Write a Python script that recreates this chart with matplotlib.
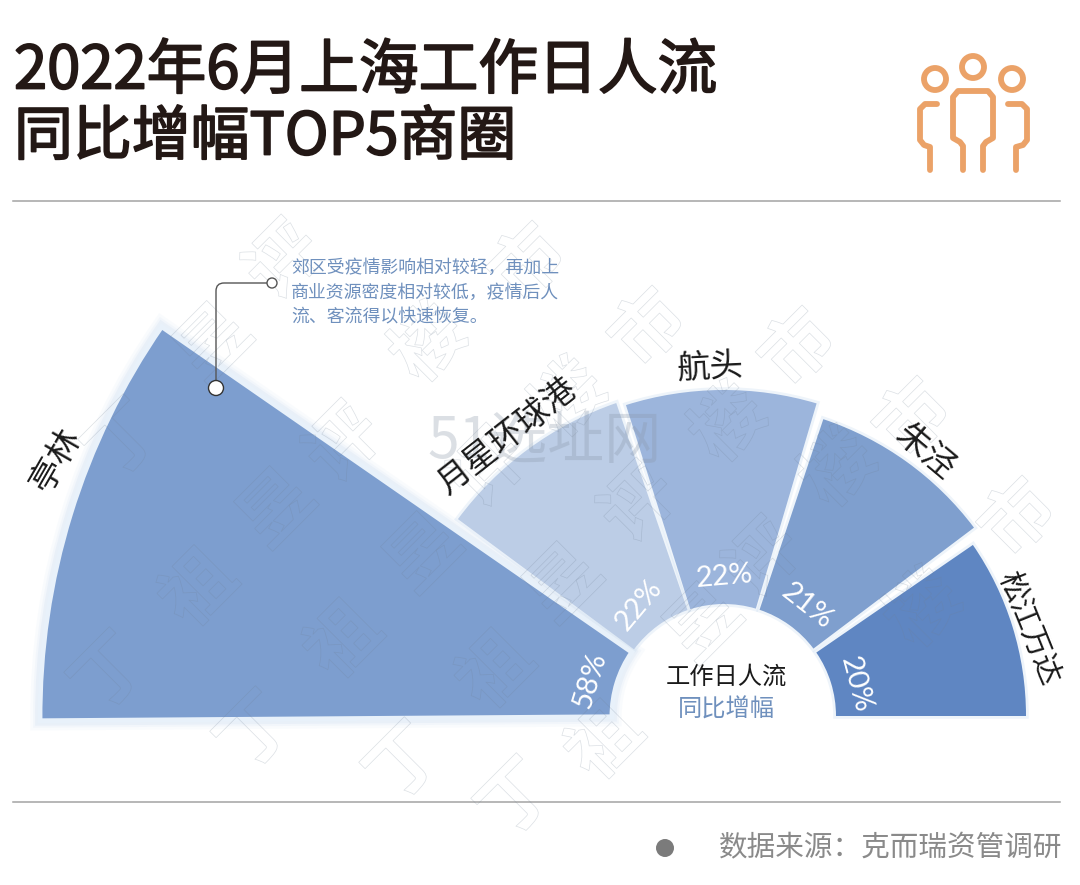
import numpy as np
import matplotlib
matplotlib.use('Agg')
import matplotlib.pyplot as plt
from matplotlib.path import Path
from matplotlib.patches import PathPatch, Circle
import matplotlib.patheffects as pe

plt.rcParams['font.family'] = ['Noto Sans CJK SC', 'DejaVu Sans']

# data
names = ['亭林', '月星环球港', '航头', '朱泾', '松江万达']
growth = [58, 22, 22, 21, 20]
start_deg = [145.3, 109.0, 73.5, 37.0, 0.0]
end_deg = [180.4, 143.5, 107.5, 71.5, 34.5]
outer_px = [684, 331, 326, 313, 302]
inner_px = 112
colors = ['#7d9ecf', '#bccde6', '#9cb5dc', '#7f9fce', '#5f86c2']

label_pos = [(56, 460), (507, 437), (711, 367), (925, 452), (1028, 628)]
label_rot = [60, 38, 3, -40, -68]
label_size = [24, 24, 24, 24, 21.5]
pct_pos = [(590, 680), (639, 605), (724, 577), (807, 606), (856, 684)]
pct_rot = [73, 50, 5, -38, -75]

note_lines = ['郊区受疫情影响相对较轻，再加上', '商业资源密度相对较低，疫情后人', '流、客流得以快速恢复。']
note_y = [268, 293, 317]

W, H = 1080, 885
cx, cy, R = 724, 716, 720

fig = plt.figure(figsize=(W / 100, H / 100), dpi=100, facecolor='white')

# fan, in polar axes centred on the hub
pol = fig.add_axes([(cx - R) / W, (H - cy - R) / H, 2 * R / W, 2 * R / H], projection='polar')
pol.set_ylim(0, R)
pol.axis('off')
pol.patch.set_alpha(0)

theta = np.radians([(a + b) / 2 for a, b in zip(start_deg, end_deg)])
width = np.radians([b - a for a, b in zip(start_deg, end_deg)])
height = [o - inner_px for o in outer_px]

# glow behind the big sector, then lighter for the others
for lw, al in [(14, 0.06), (10, 0.08), (7, 0.12)]:
    pol.bar(theta[0], height[0], width[0], bottom=inner_px, color='none',
            edgecolor='#a9c6e6', linewidth=lw, alpha=al, zorder=1)
for i in range(1, 5):
    pol.bar(theta[i], height[i], width[i], bottom=inner_px, color='none',
            edgecolor='#cfe0f2', linewidth=4, alpha=0.35, zorder=1)
for i in range(5):
    pol.bar(theta[i], height[i], width[i], bottom=inner_px, color=colors[i],
            edgecolor='#e8f1fa' if i == 0 else 'none', linewidth=3.5 if i == 0 else 0, zorder=2 + (i == 0))

# everything else in pixel coordinates
ax = fig.add_axes([0, 0, 1, 1])
ax.set_xlim(0, W)
ax.set_ylim(H, 0)
ax.axis('off')
ax.patch.set_alpha(0)

# faint outlined watermark
wm = [('丁', 111, 674), ('丁', 257, 733), ('丁', 406, 764), ('丁', 518, 800), ('丁', 125, 441),
      ('祖', 200, 590), ('祖', 345, 642), ('祖', 497, 672), ('祖', 606, 743),
      ('昱', 278, 510), ('昱', 425, 555), ('昱', 565, 585), ('昱', 705, 625), ('昱', 215, 345),
      ('评', 285, 262), ('评', 345, 445), ('评', 490, 470), ('评', 640, 505), ('评', 765, 560),
      ('楼', 430, 345), ('楼', 570, 400), ('楼', 730, 425), ('楼', 840, 470), ('楼', 925, 610),
      ('市', 530, 265), ('市', 650, 330), ('市', 800, 350), ('市', 915, 420), ('市', 1020, 520)]
for ch, x, y in wm:
    t = ax.text(x, y, ch, fontsize=52, fontweight='bold', rotation=45, ha='center', va='center',
                color='none', zorder=4)
    # alpha goes in the colour: a forced alpha would also fill the glyph
    t.set_path_effects([pe.Stroke(linewidth=0.5, foreground=(0.44, 0.5, 0.58, 0.25))])
ax.text(545, 442, '51选址网', fontsize=41, ha='center', va='center', color='#8a97a8', alpha=0.3, zorder=4)

# title, regular weight thickened a bit
title_kw = dict(color='#231815', va='center', ha='left')
title_fx = [pe.withStroke(linewidth=1.3, foreground='#231815')]
ax.text(14, 72, '2022年6月上海工作日人流', fontsize=43, path_effects=title_fx, **title_kw)
ax.text(14, 138, '同比增幅TOP5商圈', fontsize=42.4, path_effects=title_fx, **title_kw)

# rules
ax.plot([13, 1060], [201, 201], color='#a3a3a3', lw=1.1)
ax.plot([13, 1060], [802, 802], color='#a3a3a3', lw=1.1)

# icon
icon_col = '#eba268'
for x, y in [(935, 79), (973, 67), (1012, 79)]:
    ax.add_patch(Circle((x, y), 11, fc='none', ec=icon_col, lw=4.2))
icon_lines = [
    [(963, 170), (963, 146), (960, 142), (953, 138), (953, 97), (958, 91), (988, 91), (993, 97), (993, 138), (986, 142), (983, 146), (983, 170)],
    [(937, 104), (925, 104), (920, 109), (920, 140), (924, 145), (930, 147), (930, 170)],
    [(1008, 104), (1022, 104), (1027, 109), (1027, 140), (1023, 145), (1016, 147), (1016, 170)],
]
for pts in icon_lines:
    xs, ys = zip(*pts)
    ax.plot(xs, ys, color=icon_col, lw=4.2, solid_capstyle='round', solid_joinstyle='round')

# sector labels
for name, (x, y), rot, fs in zip(names, label_pos, label_rot, label_size):
    ax.text(x, y, name, fontsize=fs, color='#1a1a1a', rotation=rot, rotation_mode='anchor',
            ha='center', va='center', zorder=5)
for val, (x, y), rot in zip(growth, pct_pos, pct_rot):
    ax.text(x, y, f'{val}%', fontsize=21, color='white', rotation=rot, rotation_mode='anchor',
            ha='center', va='center', family='Lato', zorder=5)

# hub
ax.text(726, 677, '工作日人流', fontsize=17.5, color='#1a1a1a', ha='center', va='center', zorder=5)
ax.text(726, 710, '同比增幅', fontsize=17.5, color='#6f90bd', ha='center', va='center', zorder=5)

# callout
verts = [(272, 283), (224, 283), (216, 283), (216, 291), (216, 388)]
codes = [Path.MOVETO, Path.LINETO, Path.CURVE3, Path.CURVE3, Path.LINETO]
ax.add_patch(PathPatch(Path(verts, codes), fc='none', ec='#555555', lw=1, zorder=5))
ax.add_patch(Circle((216, 388), 7.5, fc='white', ec='#333333', lw=1, zorder=6))
ax.add_patch(Circle((272, 283), 5, fc='white', ec='#555555', lw=1, zorder=6))
for line, y in zip(note_lines, note_y):
    ax.text(291, y, line, fontsize=12.9, color='#6f90bd', ha='left', va='center', zorder=5)

# source
ax.add_patch(Circle((665, 848), 9, fc='#7b7b7b', ec='none'))
ax.text(719, 848, '数据来源：克而瑞资管调研', fontsize=20.6, color='#8a8a8a', ha='left', va='center')

fig.savefig('out.png', dpi=100)
